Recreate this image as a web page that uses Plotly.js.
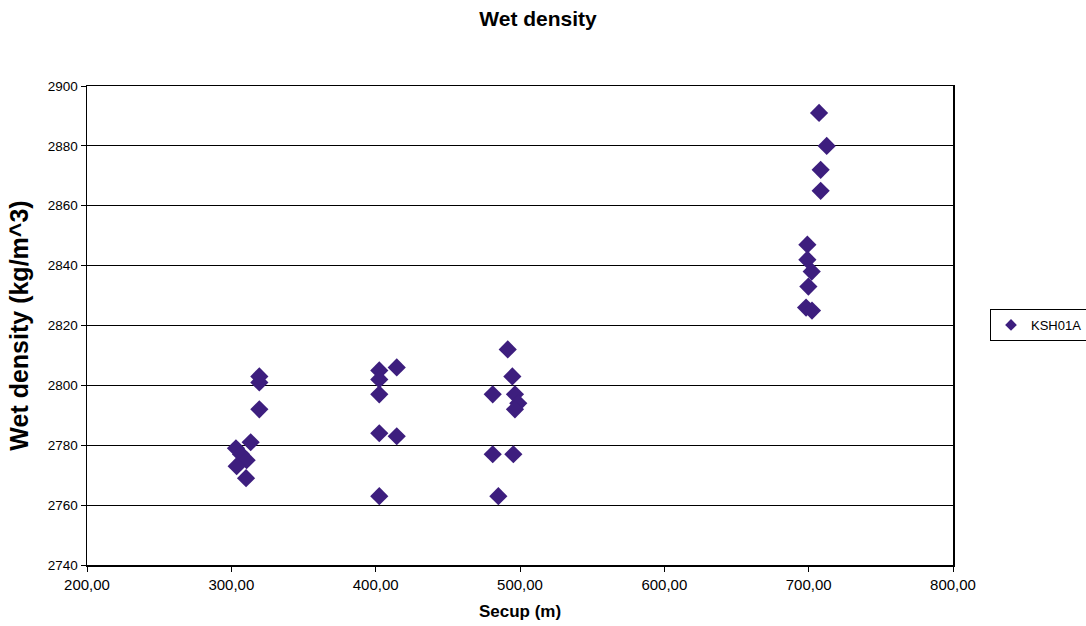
<!DOCTYPE html>
<html>
<head>
<meta charset="utf-8">
<script src="https://cdn.plot.ly/plotly-3.0.1.min.js"></script>
<style>html,body{margin:0;padding:0;background:#fff;}#chart{width:1086px;height:626px;}</style>
</head>
<body>
<div id="chart"></div>
<script>
// Data
const seriesName = "KSH01A";
const secup = [
  303.2, 306.7, 310.6, 303.7, 310.2, 313.4, 319.4, 319.4, 319.4,
  402.5, 414.6, 402.5, 402.5, 402.5, 414.6, 402.5,
  491.5, 494.7, 481.1, 496.5, 498.8, 496.5, 481.1, 495.4, 485.0,
  707.2, 712.5, 708.3, 708.3, 699.1, 699.1, 702.1, 699.8, 698.2, 702.3
];
const wetDensity = [
  2779, 2777, 2775, 2773, 2769, 2781, 2792, 2801, 2803,
  2805, 2806, 2802, 2797, 2784, 2783, 2763,
  2812, 2803, 2797, 2797, 2794, 2792, 2777, 2777, 2763,
  2891, 2880, 2872, 2865, 2847, 2842, 2838, 2833, 2826, 2825
];
const xTicks = [200, 300, 400, 500, 600, 700, 800];
const yTicks = [2740, 2760, 2780, 2800, 2820, 2840, 2860, 2880, 2900];

const font = "Liberation Sans, Arial, sans-serif";
const markerColor = '#3d1e7e';
const pointsTrace = {
  x: secup, y: wetDensity, type: 'scatter', mode: 'markers', name: seriesName,
  marker: {symbol: 'diamond', size: 14, color: markerColor, line: {width: 0}},
  showlegend: false
};
// legend entry for the same series (smaller symbol, as in the reference legend)
const legendTrace = {
  x: [null], y: [null], type: 'scatter', mode: 'markers', name: seriesName,
  marker: {symbol: 'diamond', size: 9, color: markerColor, line: {width: 0}},
  showlegend: true
};
const layout = {
  width: 1086, height: 626,
  margin: {l: 87, r: 133, t: 86, b: 61, pad: 0, autoexpand: false},
  paper_bgcolor: '#fff', plot_bgcolor: '#fff',
  separators: ',.',
  font: {family: font, size: 13, color: '#000'},
  title: {text: '<b>Wet density</b>', font: {family: font, size: 21, color: '#000'},
          x: 538/1086, xref: 'container', y: 1 - 19/626, yref: 'container', yanchor: 'middle'},
  xaxis: {
    range: [200, 800], tickvals: xTicks, tickformat: '.2f',
    showgrid: false, zeroline: false,
    showline: true, mirror: true, linecolor: '#000', linewidth: 1.5,
    ticks: 'outside', ticklen: 5, tickcolor: '#000',
    tickfont: {family: font, size: 15, color: '#000'},
    title: {text: '<b>Secup (m)</b>', font: {family: font, size: 17, color: '#000'}, standoff: 13}
  },
  yaxis: {
    range: [2740, 2900], tickvals: yTicks,
    showgrid: true, gridcolor: '#000', gridwidth: 1, zeroline: false,
    showline: true, mirror: true, linecolor: '#000', linewidth: 1.5,
    ticks: 'outside', ticklen: 5, tickcolor: '#000',
    tickfont: {family: font, size: 13.5, color: '#000'},
    title: {text: '<b>Wet density (kg/m^3)</b>', font: {family: font, size: 25, color: '#000'}, standoff: 12}
  },
  legend: {
    xref: 'container', yref: 'container',
    x: 990/1086, xanchor: 'left', y: 1 - 325/626, yanchor: 'middle',
    bordercolor: '#000', borderwidth: 1, bgcolor: '#fff',
    font: {family: font, size: 13, color: '#000'},
    itemwidth: 30, tracegroupgap: 0
  }
};
Plotly.newPlot('chart', [pointsTrace, legendTrace], layout, {staticPlot: true, displayModeBar: false});
</script>
</body>
</html>
